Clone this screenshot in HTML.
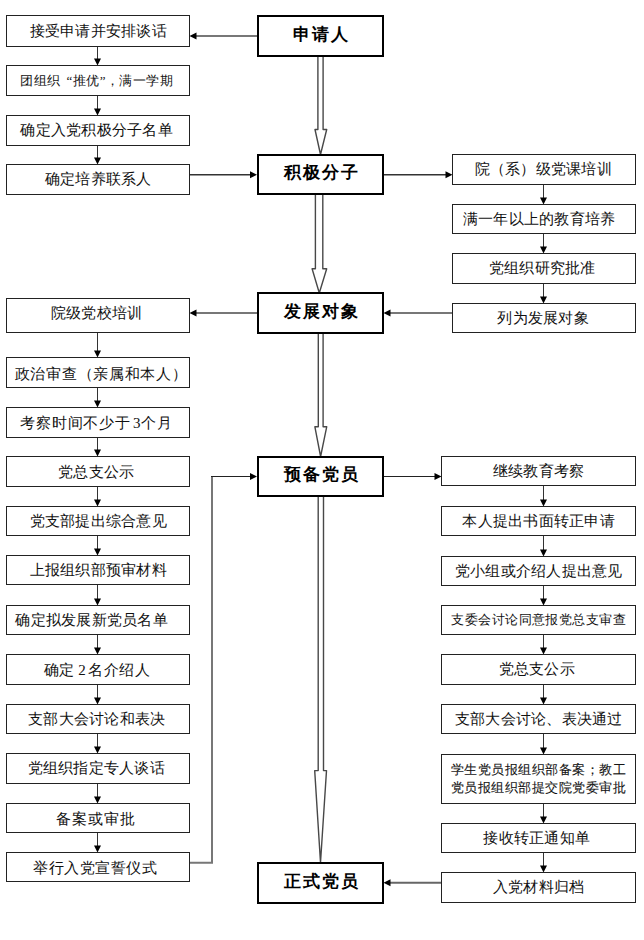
<!DOCTYPE html>
<html><head><meta charset="utf-8">
<style>
html,body{margin:0;padding:0;background:#fff;-webkit-font-smoothing:antialiased;width:644px;height:940px;overflow:hidden;position:relative}
svg{position:absolute;left:0;top:0}
.t{position:absolute;display:flex;align-items:center;justify-content:center;text-align:center;font-family:"Liberation Serif",serif;color:#111;white-space:nowrap}
.s{font-size:15px;letter-spacing:0.25px;text-indent:0.25px}
.sm{font-size:13px;letter-spacing:0.45px;text-indent:0.45px}
.two{font-size:12.5px;line-height:18px;letter-spacing:0.5px;white-space:normal;-webkit-text-stroke:0.1px #222}
.m{font-size:17px;font-weight:bold;letter-spacing:2px;text-indent:2px;padding-bottom:4px;box-sizing:border-box;font-family:"Liberation Sans",sans-serif;color:#000}
</style></head><body>
<svg width="644" height="940" viewBox="0 0 644 940">
<line x1="97.5" y1="47" x2="97.5" y2="62" stroke="#333" stroke-width="1"/>
<path d="M94.0 58.5 L101.0 58.5 L97.5 65.5 Z" fill="#000"/>
<line x1="97.5" y1="96" x2="97.5" y2="112" stroke="#333" stroke-width="1"/>
<path d="M94.0 108.5 L101.0 108.5 L97.5 115.5 Z" fill="#000"/>
<line x1="97.5" y1="146" x2="97.5" y2="161" stroke="#333" stroke-width="1"/>
<path d="M94.0 157.5 L101.0 157.5 L97.5 164.5 Z" fill="#000"/>
<line x1="97.5" y1="333" x2="97.5" y2="354" stroke="#333" stroke-width="1"/>
<path d="M94.0 350.5 L101.0 350.5 L97.5 357.5 Z" fill="#000"/>
<line x1="97.5" y1="388" x2="97.5" y2="404" stroke="#333" stroke-width="1"/>
<path d="M94.0 400.5 L101.0 400.5 L97.5 407.5 Z" fill="#000"/>
<line x1="97.5" y1="438" x2="97.5" y2="453" stroke="#333" stroke-width="1"/>
<path d="M94.0 449.5 L101.0 449.5 L97.5 456.5 Z" fill="#000"/>
<line x1="97.5" y1="487" x2="97.5" y2="503" stroke="#333" stroke-width="1"/>
<path d="M94.0 499.5 L101.0 499.5 L97.5 506.5 Z" fill="#000"/>
<line x1="97.5" y1="536" x2="97.5" y2="552" stroke="#333" stroke-width="1"/>
<path d="M94.0 548.5 L101.0 548.5 L97.5 555.5 Z" fill="#000"/>
<line x1="97.5" y1="585" x2="97.5" y2="602" stroke="#333" stroke-width="1"/>
<path d="M94.0 598.5 L101.0 598.5 L97.5 605.5 Z" fill="#000"/>
<line x1="97.5" y1="635" x2="97.5" y2="651" stroke="#333" stroke-width="1"/>
<path d="M94.0 647.5 L101.0 647.5 L97.5 654.5 Z" fill="#000"/>
<line x1="97.5" y1="685" x2="97.5" y2="701" stroke="#333" stroke-width="1"/>
<path d="M94.0 697.5 L101.0 697.5 L97.5 704.5 Z" fill="#000"/>
<line x1="97.5" y1="734" x2="97.5" y2="750" stroke="#333" stroke-width="1"/>
<path d="M94.0 746.5 L101.0 746.5 L97.5 753.5 Z" fill="#000"/>
<line x1="97.5" y1="784" x2="97.5" y2="800" stroke="#333" stroke-width="1"/>
<path d="M94.0 796.5 L101.0 796.5 L97.5 803.5 Z" fill="#000"/>
<line x1="97.5" y1="833" x2="97.5" y2="849" stroke="#333" stroke-width="1"/>
<path d="M94.0 845.5 L101.0 845.5 L97.5 852.5 Z" fill="#000"/>
<line x1="543.5" y1="185" x2="543.5" y2="201" stroke="#333" stroke-width="1"/>
<path d="M540.0 197.5 L547.0 197.5 L543.5 204.5 Z" fill="#000"/>
<line x1="543.5" y1="234" x2="543.5" y2="250" stroke="#333" stroke-width="1"/>
<path d="M540.0 246.5 L547.0 246.5 L543.5 253.5 Z" fill="#000"/>
<line x1="543.5" y1="284" x2="543.5" y2="300" stroke="#333" stroke-width="1"/>
<path d="M540.0 296.5 L547.0 296.5 L543.5 303.5 Z" fill="#000"/>
<line x1="543.5" y1="486" x2="543.5" y2="503" stroke="#333" stroke-width="1"/>
<path d="M540.0 499.5 L547.0 499.5 L543.5 506.5 Z" fill="#000"/>
<line x1="543.5" y1="536" x2="543.5" y2="553" stroke="#333" stroke-width="1"/>
<path d="M540.0 549.5 L547.0 549.5 L543.5 556.5 Z" fill="#000"/>
<line x1="543.5" y1="586" x2="543.5" y2="602" stroke="#333" stroke-width="1"/>
<path d="M540.0 598.5 L547.0 598.5 L543.5 605.5 Z" fill="#000"/>
<line x1="543.5" y1="635" x2="543.5" y2="651" stroke="#333" stroke-width="1"/>
<path d="M540.0 647.5 L547.0 647.5 L543.5 654.5 Z" fill="#000"/>
<line x1="543.5" y1="685" x2="543.5" y2="701" stroke="#333" stroke-width="1"/>
<path d="M540.0 697.5 L547.0 697.5 L543.5 704.5 Z" fill="#000"/>
<line x1="543.5" y1="734" x2="543.5" y2="751" stroke="#333" stroke-width="1"/>
<path d="M540.0 747.5 L547.0 747.5 L543.5 754.5 Z" fill="#000"/>
<line x1="543.5" y1="804" x2="543.5" y2="820" stroke="#333" stroke-width="1"/>
<path d="M540.0 816.5 L547.0 816.5 L543.5 823.5 Z" fill="#000"/>
<line x1="543.5" y1="853" x2="543.5" y2="869" stroke="#333" stroke-width="1"/>
<path d="M540.0 865.5 L547.0 865.5 L543.5 872.5 Z" fill="#000"/>
<line x1="196" y1="36" x2="257" y2="36" stroke="#777" stroke-width="2"/>
<path d="M196.5 32.5 L196.5 39.5 L189.5 36 Z" fill="#000"/>
<line x1="190" y1="174.75" x2="252" y2="174.75" stroke="#333" stroke-width="1.5"/>
<path d="M250 171.25 L250 178.25 L257 174.75 Z" fill="#000"/>
<line x1="384" y1="174.75" x2="447" y2="174.75" stroke="#333" stroke-width="1.5"/>
<path d="M445.5 171.25 L445.5 178.25 L452.5 174.75 Z" fill="#000"/>
<line x1="196" y1="313" x2="257" y2="313" stroke="#777" stroke-width="2"/>
<path d="M196.5 309.5 L196.5 316.5 L189.5 313 Z" fill="#000"/>
<line x1="390" y1="313" x2="452" y2="313" stroke="#777" stroke-width="2"/>
<path d="M390.5 309.5 L390.5 316.5 L383.5 313 Z" fill="#000"/>
<polyline points="190,862.8 212,862.8 212,476.5" fill="none" stroke="#777" stroke-width="2"/>
<line x1="211" y1="476.5" x2="252" y2="476.5" stroke="#222" stroke-width="1.2"/>
<path d="M250 473.0 L250 480.0 L257 476.5 Z" fill="#000"/>
<line x1="384" y1="476.5" x2="436" y2="476.5" stroke="#222" stroke-width="1.2"/>
<path d="M434.5 473.0 L434.5 480.0 L441.5 476.5 Z" fill="#000"/>
<line x1="390" y1="882.8" x2="441" y2="882.8" stroke="#666" stroke-width="2"/>
<path d="M390.5 879.3 L390.5 886.3 L383.5 882.8 Z" fill="#000"/>
<path d="M317.9 56 L317.9 129.5 L315.0 129.5 L320.5 154.5 L326.7 129.5 L323.1 129.5 L323.1 56" fill="#fff" stroke="#484848" stroke-width="1.4" stroke-linejoin="round"/>
<path d="M315.4 194 L315.4 268.8 L312.1 268.8 L319.3 293 L326.7 268.8 L322.8 268.8 L322.8 194" fill="#fff" stroke="#484848" stroke-width="1.4" stroke-linejoin="round"/>
<path d="M318.3 333 L318.3 426.8 L314.9 426.8 L320.6 456.5 L326.7 426.8 L323.1 426.8 L323.1 333" fill="#fff" stroke="#484848" stroke-width="1.4" stroke-linejoin="round"/>
<path d="M318.2 496 L318.2 770.6 L314.7 770.6 L320.5 862.5 L326.5 770.6 L323.5 770.6 L323.5 496" fill="#fff" stroke="#484848" stroke-width="1.4" stroke-linejoin="round"/>
<rect x="6.5" y="15.5" width="183" height="31" fill="#fff" stroke="#222" stroke-width="1"/>
<rect x="6.5" y="65.5" width="183" height="30" fill="#fff" stroke="#222" stroke-width="1"/>
<rect x="6.5" y="115.5" width="183" height="30" fill="#fff" stroke="#222" stroke-width="1"/>
<rect x="6.5" y="164.5" width="183" height="30" fill="#fff" stroke="#222" stroke-width="1"/>
<rect x="6.5" y="298.5" width="183" height="34" fill="#fff" stroke="#222" stroke-width="1"/>
<rect x="6.5" y="357.5" width="183" height="30" fill="#fff" stroke="#222" stroke-width="1"/>
<rect x="6.5" y="407.5" width="183" height="30" fill="#fff" stroke="#222" stroke-width="1"/>
<rect x="6.5" y="456.5" width="183" height="30" fill="#fff" stroke="#222" stroke-width="1"/>
<rect x="6.5" y="506.5" width="183" height="29" fill="#fff" stroke="#222" stroke-width="1"/>
<rect x="6.5" y="555.5" width="183" height="29" fill="#fff" stroke="#222" stroke-width="1"/>
<rect x="6.5" y="605.5" width="183" height="29" fill="#fff" stroke="#222" stroke-width="1"/>
<rect x="6.5" y="654.5" width="183" height="30" fill="#fff" stroke="#222" stroke-width="1"/>
<rect x="6.5" y="704.5" width="183" height="29" fill="#fff" stroke="#222" stroke-width="1"/>
<rect x="6.5" y="753.5" width="183" height="30" fill="#fff" stroke="#222" stroke-width="1"/>
<rect x="6.5" y="803.5" width="183" height="29" fill="#fff" stroke="#222" stroke-width="1"/>
<rect x="6.5" y="852.5" width="183" height="29" fill="#fff" stroke="#222" stroke-width="1"/>
<rect x="452.5" y="154.5" width="183" height="30" fill="#fff" stroke="#222" stroke-width="1"/>
<rect x="452.5" y="204.5" width="183" height="29" fill="#fff" stroke="#222" stroke-width="1"/>
<rect x="452.5" y="253.5" width="183" height="30" fill="#fff" stroke="#222" stroke-width="1"/>
<rect x="452.5" y="303.5" width="183" height="29" fill="#fff" stroke="#222" stroke-width="1"/>
<rect x="441.5" y="456.5" width="194" height="29" fill="#fff" stroke="#222" stroke-width="1"/>
<rect x="441.5" y="506.5" width="194" height="29" fill="#fff" stroke="#222" stroke-width="1"/>
<rect x="441.5" y="556.5" width="194" height="29" fill="#fff" stroke="#222" stroke-width="1"/>
<rect x="441.5" y="605.5" width="194" height="29" fill="#fff" stroke="#222" stroke-width="1"/>
<rect x="441.5" y="654.5" width="194" height="30" fill="#fff" stroke="#222" stroke-width="1"/>
<rect x="441.5" y="704.5" width="194" height="29" fill="#fff" stroke="#222" stroke-width="1"/>
<rect x="441.5" y="754.5" width="194" height="49" fill="#fff" stroke="#222" stroke-width="1"/>
<rect x="441.5" y="823.5" width="194" height="29" fill="#fff" stroke="#222" stroke-width="1"/>
<rect x="441.5" y="872.5" width="194" height="30" fill="#fff" stroke="#222" stroke-width="1"/>
<rect x="258" y="16" width="125" height="40" fill="#fff" stroke="#000" stroke-width="2"/>
<rect x="258" y="155" width="125" height="39" fill="#fff" stroke="#000" stroke-width="2"/>
<rect x="258" y="293" width="125" height="40" fill="#fff" stroke="#000" stroke-width="2"/>
<rect x="258" y="457" width="125" height="39" fill="#fff" stroke="#000" stroke-width="2"/>
<rect x="258" y="863" width="125" height="40" fill="#fff" stroke="#000" stroke-width="2"/>
</svg>
<div class="t s" style="left:7px;top:16px;width:182px;height:30px;">接受申请并安排谈话</div>
<div class="t s" style="left:7px;top:66px;width:182px;height:29px;font-size:13px;letter-spacing:0.5px;text-indent:0;justify-content:flex-start;padding-left:13.4px;box-sizing:border-box">团组织<span style='display:inline-block;width:5.5px'></span>“推优”，满一学期</div>
<div class="t s" style="left:5.5px;top:116px;width:182px;height:29px;">确定入党积极分子名单</div>
<div class="t s" style="left:7px;top:165px;width:182px;height:29px;">确定培养联系人</div>
<div class="t s" style="left:5.5px;top:299px;width:182px;height:33px;margin-top:-2px">院级党校培训</div>
<div class="t s" style="left:10px;top:358px;width:182px;height:29px;letter-spacing:0.7px;margin-top:1.5px">政治审查（亲属和本人）</div>
<div class="t s" style="left:5.5px;top:408px;width:182px;height:29px;letter-spacing:0.8px;margin-top:1px">考察时间不少于<span style='display:inline-block;width:2px'></span>3个月</div>
<div class="t s" style="left:5px;top:457px;width:182px;height:29px;margin-top:1px">党总支公示</div>
<div class="t s" style="left:7px;top:507px;width:182px;height:28px;">党支部提出综合意见</div>
<div class="t s" style="left:7px;top:556px;width:182px;height:28px;">上报组织部预审材料</div>
<div class="t s" style="left:0.5px;top:606px;width:182px;height:28px;">确定拟发展新党员名单</div>
<div class="t s" style="left:6px;top:655px;width:182px;height:29px;letter-spacing:0.5px;margin-top:1px">确定<span style='display:inline-block;width:3px'></span>2<span style='display:inline-block;width:2px'></span>名介绍人</div>
<div class="t s" style="left:5.5px;top:705px;width:182px;height:28px;">支部大会讨论和表决</div>
<div class="t s" style="left:5px;top:754px;width:182px;height:29px;">党组织指定专人谈话</div>
<div class="t s" style="left:5px;top:804px;width:182px;height:28px;letter-spacing:1px;margin-top:1px">备案或审批</div>
<div class="t s" style="left:4px;top:853px;width:182px;height:28px;letter-spacing:0.5px;margin-top:1px">举行入党宣誓仪式</div>
<div class="t s" style="left:452px;top:155px;width:182px;height:29px;">院（系）级党课培训</div>
<div class="t s" style="left:448px;top:205px;width:182px;height:28px;">满一年以上的教育培养</div>
<div class="t s" style="left:451px;top:254px;width:182px;height:29px;">党组织研究批准</div>
<div class="t s" style="left:452px;top:304px;width:182px;height:28px;">列为发展对象</div>
<div class="t s" style="left:442px;top:457px;width:193px;height:28px;">继续教育考察</div>
<div class="t s" style="left:442px;top:507px;width:193px;height:28px;">本人提出书面转正申请</div>
<div class="t s" style="left:442px;top:557px;width:193px;height:28px;">党小组或介绍人提出意见</div>
<div class="t s sm" style="left:442px;top:606px;width:193px;height:28px;">支委会讨论同意报党总支审查</div>
<div class="t s" style="left:440px;top:655px;width:193px;height:29px;">党总支公示</div>
<div class="t s" style="left:442px;top:705px;width:193px;height:28px;">支部大会讨论、表决通过</div>
<div class="t s two" style="left:442px;top:755px;width:193px;height:48px;">学生党员报组织部备案；教工<br>党员报组织部提交院党委审批</div>
<div class="t s" style="left:440px;top:824px;width:193px;height:28px;">接收转正通知单</div>
<div class="t s" style="left:442px;top:873px;width:193px;height:29px;">入党材料归档</div>
<div class="t m" style="left:258px;top:16px;width:125px;height:40px;">申请人</div>
<div class="t m" style="left:258px;top:155px;width:125px;height:39px;">积极分子</div>
<div class="t m" style="left:258px;top:293px;width:125px;height:40px;">发展对象</div>
<div class="t m" style="left:258px;top:457px;width:125px;height:39px;">预备党员</div>
<div class="t m" style="left:258px;top:863px;width:125px;height:40px;">正式党员</div>
</body></html>
